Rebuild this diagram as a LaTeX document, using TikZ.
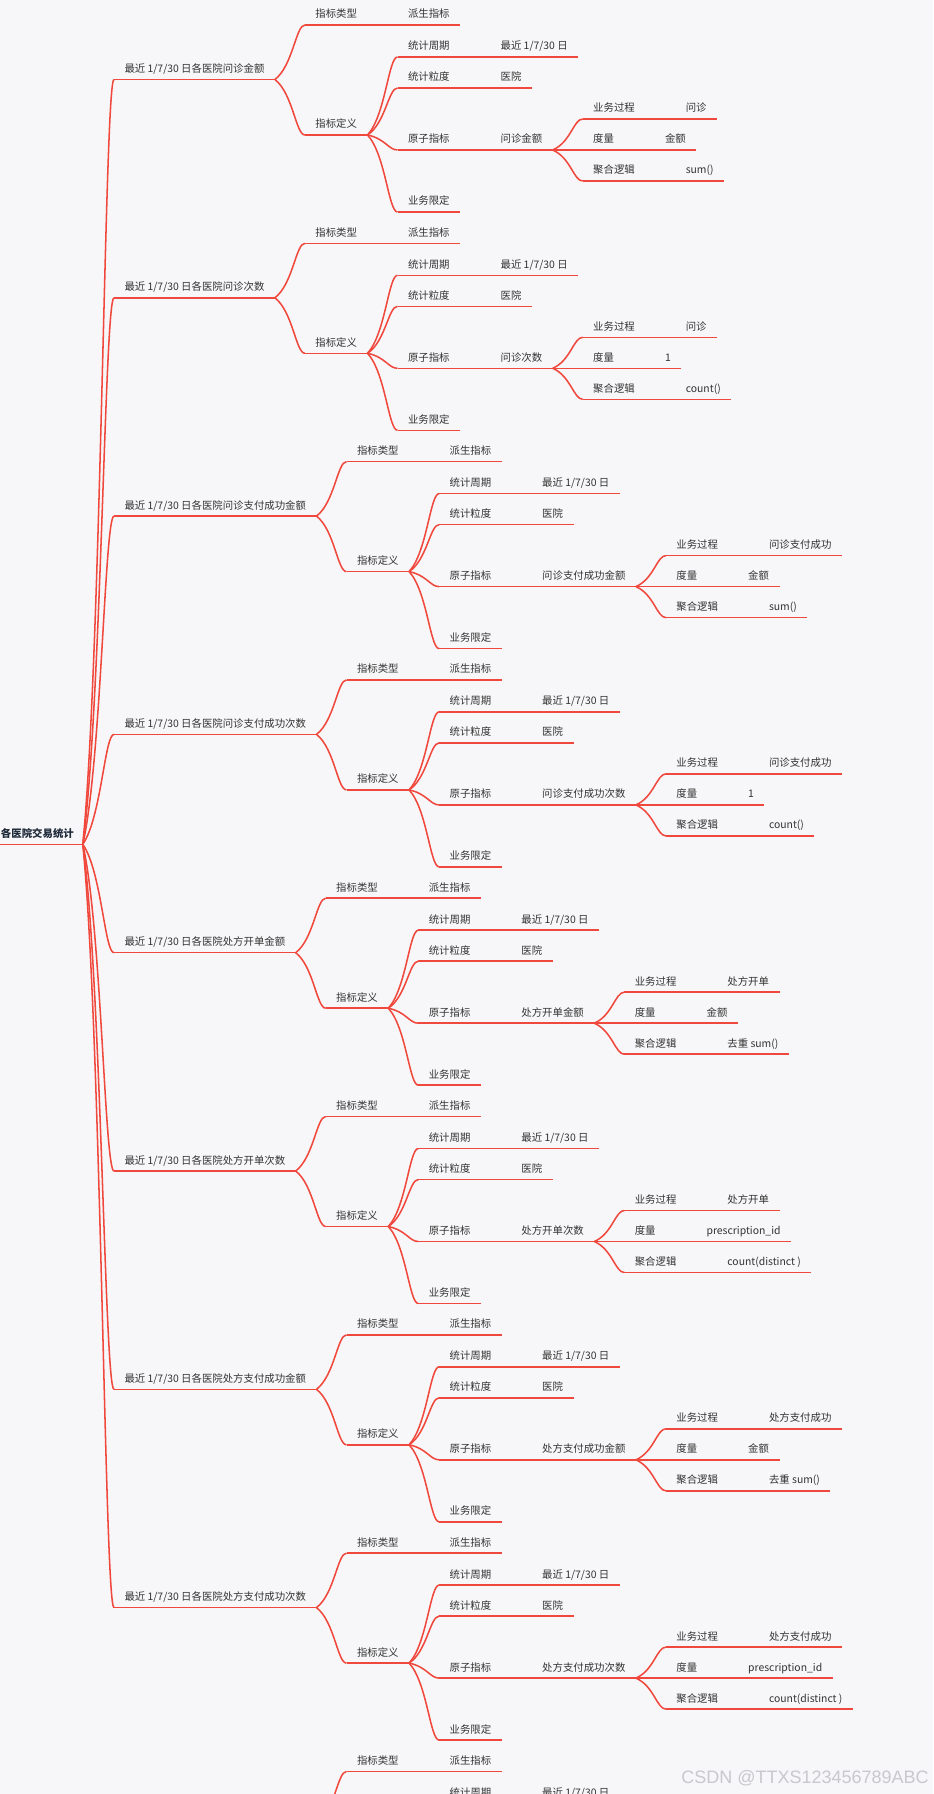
\documentclass[tikz,border=0pt]{standalone}
\usepackage{fontspec}
\setmainfont{Noto Sans CJK SC}
\newfontfamily\wmfont{Liberation Sans}
\usetikzlibrary{calc}
\definecolor{bgc}{RGB}{247,247,249}
\definecolor{redline}{RGB}{240,72,60}
\definecolor{tx}{RGB}{51,51,51}
\definecolor{rt}{RGB}{30,42,58}
\definecolor{wmc}{RGB}{200,200,205}
\tikzset{
  mm/.style={anchor=south west, inner xsep=7.875pt, inner ysep=5.25pt, text depth=0pt,
             outer sep=0pt, text=tx, font=\fontsize{7.8}{9}\selectfont},
  wire/.style={draw=redline, line width=1.15pt},
  mmlink/.style={to path={let \p1=(\tikztostart), \p2=(\tikztotarget) in
     .. controls ({\x1+0.6*(\x2-\x1)},{\y1+0.25*(\y2-\y1)}) and ({\x2-0.3*(\x2-\x1)},\y2) .. (\tikztotarget)}}
}
% node with underline
\newcommand\mmn[3]{%
  \node[mm] (#1) at (#2) {#3};
  \draw[wire] (#1.south west) -- (#1.south east);}
% connector parent -> child
\newcommand\mml[2]{\draw[wire] (#1.south east) to[mmlink] (#2.south west);}
% one block
\newcommand\mmblock[7]{%
  \mmn{#1t}{114,#2}{#3}
  \mml{root}{#1t}
  \mmn{#1a}{$(#1t.south east)+(30,-54.5)$}{指标类型}
  \mml{#1t}{#1a}
  \mmn{#1av}{$(#1a.south east)+(30,0)$}{派生指标}
  \mml{#1a}{#1av}
  \mmn{#1b}{$(#1t.south east)+(30,55.5)$}{指标定义}
  \mml{#1t}{#1b}
  \mmn{#1c}{$(#1b.south east)+(30,-78)$}{统计周期}
  \mml{#1b}{#1c}
  \mmn{#1cv}{$(#1c.south east)+(30,0)$}{最近 1/7/30 日}
  \mml{#1c}{#1cv}
  \mmn{#1d}{$(#1b.south east)+(30,-47)$}{统计粒度}
  \mml{#1b}{#1d}
  \mmn{#1dv}{$(#1d.south east)+(30,0)$}{医院}
  \mml{#1d}{#1dv}
  \mmn{#1e}{$(#1b.south east)+(30,15)$}{原子指标}
  \mml{#1b}{#1e}
  \mmn{#1ev}{$(#1e.south east)+(30,0)$}{#4}
  \mml{#1e}{#1ev}
  \mmn{#1f}{$(#1b.south east)+(30,77)$}{业务限定}
  \mml{#1b}{#1f}
  \mmn{#1g}{$(#1ev.south east)+(30,-31)$}{业务过程}
  \mml{#1ev}{#1g}
  \mmn{#1gv}{$(#1g.south east)+(30,0)$}{#5}
  \mml{#1g}{#1gv}
  \mmn{#1h}{$(#1ev.south east)+(30,0)$}{度量}
  \mml{#1ev}{#1h}
  \mmn{#1hv}{$(#1h.south east)+(30,0)$}{#6}
  \mml{#1h}{#1hv}
  \mmn{#1i}{$(#1ev.south east)+(30,31)$}{聚合逻辑}
  \mml{#1ev}{#1i}
  \mmn{#1iv}{$(#1i.south east)+(30,0)$}{#7}
  \mml{#1i}{#1iv}
}
\begin{document}
\begin{tikzpicture}[x=0.75pt,y=-0.75pt]
\fill[bgc] (0,0) rectangle (933,1794);
\useasboundingbox (0,0) rectangle (933,1794);
\clip (0,0) rectangle (933,1794);
\node[mm, inner xsep=0pt, font=\fontsize{7.8}{9}\selectfont\bfseries, text=rt] (root) at (0,844.3)
  {\hspace*{0.75pt}各医院交易统计\hspace*{6.75pt}};
\draw[wire] (root.south west) -- (root.south east);
\mmblock{b1}{79.5}{最近 1/7/30 日各医院问诊金额}{问诊金额}{问诊}{金额}{sum()}
\mmblock{b2}{297.8}{最近 1/7/30 日各医院问诊次数}{问诊次数}{问诊}{1}{count()}
\mmblock{b3}{516.1}{最近 1/7/30 日各医院问诊支付成功金额}{问诊支付成功金额}{问诊支付成功}{金额}{sum()}
\mmblock{b4}{734.4}{最近 1/7/30 日各医院问诊支付成功次数}{问诊支付成功次数}{问诊支付成功}{1}{count()}
\mmblock{b5}{952.7}{最近 1/7/30 日各医院处方开单金额}{处方开单金额}{处方开单}{金额}{去重 sum()}
\mmblock{b6}{1171.0}{最近 1/7/30 日各医院处方开单次数}{处方开单次数}{处方开单}{prescription\_id}{count(distinct )}
\mmblock{b7}{1389.3}{最近 1/7/30 日各医院处方支付成功金额}{处方支付成功金额}{处方支付成功}{金额}{去重 sum()}
\mmblock{b8}{1607.6}{最近 1/7/30 日各医院处方支付成功次数}{处方支付成功次数}{处方支付成功}{prescription\_id}{count(distinct )}
% partially visible ninth block
\coordinate (b9t) at ($(b8t.south east)+(0,218.3)$);
\mmn{b9a}{$(b9t)+(30,-54.5)$}{指标类型}
\draw[wire] (b9t) to[mmlink] (b9a.south west);
\mmn{b9av}{$(b9a.south east)+(30,0)$}{派生指标}
\mml{b9a}{b9av}
\mmn{b9b}{$(b9t)+(30,55.5)$}{指标定义}
\draw[wire] (b9t) to[mmlink] (b9b.south west);
\mmn{b9c}{$(b9b.south east)+(30,-78)$}{统计周期}
\mml{b9b}{b9c}
\mmn{b9cv}{$(b9c.south east)+(30,0)$}{最近 1/7/30 日}
\mml{b9c}{b9cv}
% watermark
\node[anchor=east, inner sep=0pt, text=wmc, font=\wmfont\fontsize{13.5}{16}\selectfont] (wm) at (929,1778)
  {CSDN @TTXS123456789ABC};
\end{tikzpicture}
\end{document}
